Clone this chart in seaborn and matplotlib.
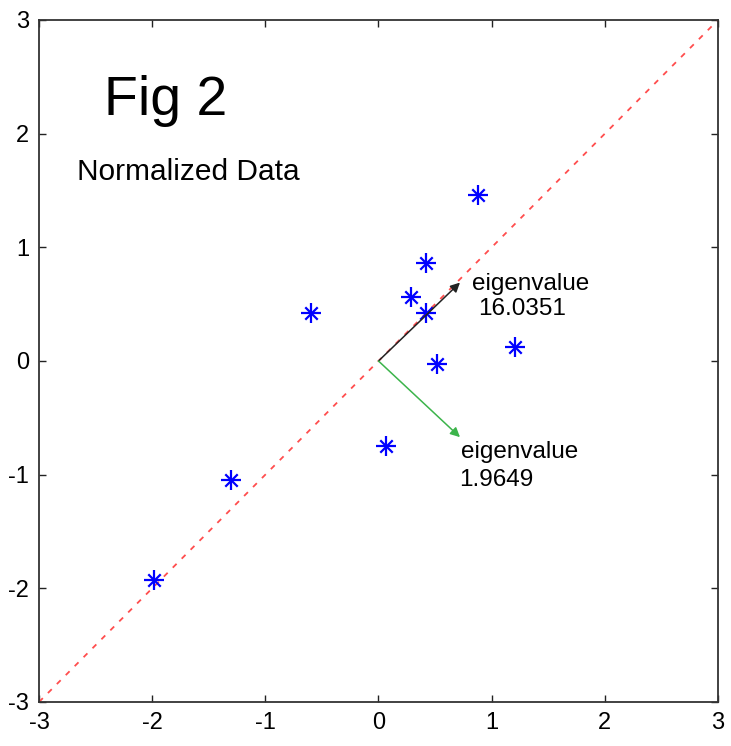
import matplotlib
matplotlib.use("Agg")
import matplotlib.pyplot as plt
import seaborn as sns
import pandas as pd

x_vals = [-1.98, -1.30, -0.60, 0.07, 0.29, 0.42, 0.42, 0.52, 0.88, 1.21]
y_vals = [-1.93, -1.05, 0.42, -0.75, 0.56, 0.86, 0.42, -0.03, 1.46, 0.12]
vec1 = [0.72, 0.69]
vec2 = [0.72, -0.67]
eig1 = "16.0351"
eig2 = "1.9649"
ticks = [-3, -2, -1, 0, 1, 2, 3]

sns.set_style("ticks")
plt.rcParams['font.family'] = ['Liberation Sans', 'DejaVu Sans']
plt.rcParams['axes.unicode_minus'] = False
plt.rcParams['text.color'] = 'black'

fig = plt.figure(figsize=(7.31, 7.46), dpi=100)
ax = fig.add_axes([39/731, 44/746, 679/731, 682/746])

df = pd.DataFrame({"x": x_vals, "y": y_vals})

sns.lineplot(x=[-3, 3], y=[-3, 3], ax=ax, color="#ff4d4d", linestyle=(0, (3, 4)), linewidth=1.3)
sns.scatterplot(data=df, x="x", y="y", ax=ax, marker="+", s=200, color="blue", linewidth=1.6, zorder=3)
sns.scatterplot(data=df, x="x", y="y", ax=ax, marker="x", s=80, color="blue", linewidth=1.6, zorder=3)

ax.annotate("", xy=(vec1[0], vec1[1]), xytext=(0, 0),
            arrowprops=dict(arrowstyle="-|>", color="#222222", lw=1.1, mutation_scale=14, shrinkA=0, shrinkB=0))
ax.annotate("", xy=(vec2[0], vec2[1]), xytext=(0, 0),
            arrowprops=dict(arrowstyle="-|>", color="#3cb44b", lw=1.1, mutation_scale=14, shrinkA=0, shrinkB=0))

ax.text(-2.43, 2.29, "Fig 2", fontsize=40, va="center", ha="left", color="black")
ax.text(-2.66, 1.66, "Normalized Data", fontsize=21.5, va="center", ha="left", color="black")
ax.text(0.83, 0.68, "eigenvalue", fontsize=17.5, va="center", ha="left", color="black")
ax.text(0.88, 0.46, eig1, fontsize=17.5, va="center", ha="left", color="black")
ax.text(0.73, -0.80, "eigenvalue", fontsize=17.5, va="center", ha="left", color="black")
ax.text(0.71, -1.05, eig2, fontsize=17.5, va="center", ha="left", color="black")

ax.set_xlim(-3, 3)
ax.set_ylim(-3, 3)
ax.set_xticks(ticks)
ax.set_yticks(ticks)
ax.set_xlabel("")
ax.set_ylabel("")
ax.tick_params(direction="in", top=True, right=True, labelsize=17, length=5, width=1,
               colors="#222222", labelcolor="black", pad=7)
for sp in ax.spines.values():
    sp.set_visible(True)
    sp.set_color("#333333")
    sp.set_linewidth(1.3)

fig.savefig("out.png", dpi=100)
